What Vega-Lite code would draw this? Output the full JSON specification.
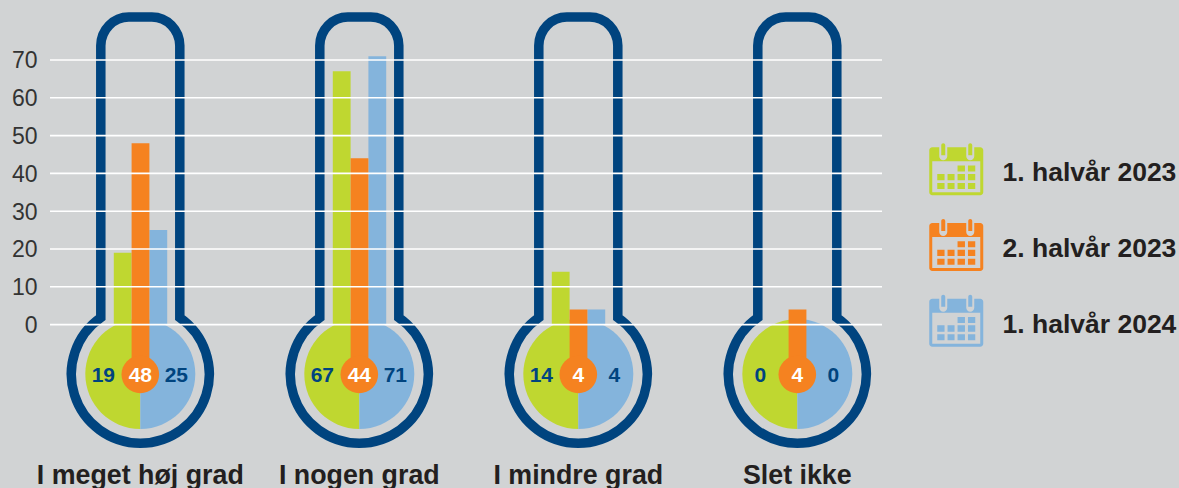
{"$schema":"https://vega.github.io/schema/vega-lite/v6.json","width":832,"height":488,"autosize":{"type":"none"},"padding":{"left":50,"top":0,"right":297,"bottom":0},"background":"#d1d3d4","config":{"view":{"stroke":null},"font":"Liberation Sans"},"datasets":{"ticks":[{"tick":0},{"tick":10},{"tick":20},{"tick":30},{"tick":40},{"tick":50},{"tick":60},{"tick":70}]},"data":{"values":[{"category":"I meget høj grad","period":"1. halvår 2023","value":19},{"category":"I meget høj grad","period":"2. halvår 2023","value":48},{"category":"I meget høj grad","period":"1. halvår 2024","value":25},{"category":"I nogen grad","period":"1. halvår 2023","value":67},{"category":"I nogen grad","period":"2. halvår 2023","value":44},{"category":"I nogen grad","period":"1. halvår 2024","value":71},{"category":"I mindre grad","period":"1. halvår 2023","value":14},{"category":"I mindre grad","period":"2. halvår 2023","value":4},{"category":"I mindre grad","period":"1. halvår 2024","value":4},{"category":"Slet ikke","period":"1. halvår 2023","value":0},{"category":"Slet ikke","period":"2. halvår 2023","value":4},{"category":"Slet ikke","period":"1. halvår 2024","value":0}]},"encoding":{"x":{"field":"category","type":"nominal","sort":["I meget høj grad","I nogen grad","I mindre grad","Slet ikke"],"scale":{"domain":["I meget høj grad","I nogen grad","I mindre grad","Slet ikke"],"range":[-19.2,856.8],"paddingInner":0,"paddingOuter":0},"axis":{"title":null,"orient":"bottom","domain":false,"ticks":false,"grid":false,"labelAngle":0,"labelBaseline":"alphabetic","labelPadding":-5,"labelFont":"Liberation Sans","labelFontSize":26.8,"labelFontWeight":"bold","labelColor":"#231f20","labelLimit":400,"labelOverlap":false,"labelBound":false,"labelFlush":false,"zindex":1}}},"layer":[{"transform":[{"filter":"datum.period !== '2. halvår 2023'"}],"mark":{"type":"bar"},"encoding":{"xOffset":{"field":"period","type":"nominal","scale":{"domain":["1. halvår 2023","2. halvår 2023","1. halvår 2024"],"range":[83,136.4],"paddingInner":0,"paddingOuter":0}},"y":{"field":"value","type":"quantitative","scale":{"domain":[-43.23,85.87],"nice":false,"zero":false},"axis":{"title":null,"values":[0,10,20,30,40,50,60,70],"domain":false,"ticks":false,"grid":false,"labelPadding":13,"labelOffset":1,"labelFont":"Liberation Sans","labelFontSize":23,"labelColor":"#333333","zindex":1}},"y2":{"datum":0},"color":{"field":"period","type":"nominal","scale":{"domain":["1. halvår 2023","2. halvår 2023","1. halvår 2024"],"range":["#bfd730","#f58220","#84b4dc"]},"legend":{"title":null,"orient":"none","legendX":893,"legendY":160,"padding":0,"symbolType":"M-24,-26 H24 A3,3 0 0 1 27,-23 V19 A3,3 0 0 1 24,22 H-24 A3,3 0 0 1 -27,19 V-23 A3,3 0 0 1 -24,-26 Z M-17,-26 V-17 A4,4 0 0 0 -9,-17 V-26 Z M10,-26 V-17 A4,4 0 0 0 18,-17 V-26 Z M-24,-12 V19 H24 V-12 Z M-15,-28 A2,2 0 0 1 -11,-28 V-18 H-15 Z M12,-28 A2,2 0 0 1 16,-28 V-18 H12 Z M1.3,-7.7 H8.7 V-1.7 H1.3 Z M11.7,-7.7 H19 V-1.7 H11.7 Z M-19,0.7 H-11.7 V7 H-19 Z M-8.7,0.7 H-1.7 V7 H-8.7 Z M1.3,0.7 H8.7 V7 H1.3 Z M11.7,0.7 H19 V7 H11.7 Z M-19,9.7 H-11.7 V15.7 H-19 Z M-8.7,9.7 H-1.7 V15.7 H-8.7 Z M1.3,9.7 H8.7 V15.7 H1.3 Z M11.7,9.7 H19 V15.7 H11.7 Z","symbolSize":4,"symbolStrokeWidth":0,"labelOffset":33,"rowPadding":22.7,"labelFont":"Liberation Sans","labelFontSize":26.5,"labelFontWeight":"bold","labelColor":"#231f20","labelLimit":400}}}},{"transform":[{"filter":"datum.period === '2. halvår 2023'"}],"mark":{"type":"point","shape":"M-39.5,-7 A69,69 0 1 0 39.5,-7 L39.5,-279 A28,29 0 0 0 11.5,-307.6 L-11.5,-307.6 A28,29 0 0 0 -39.5,-279 Z","size":4,"filled":false,"fill":null,"stroke":"#00447f","strokeWidth":9.5,"opacity":1},"encoding":{"y":{"datum":0,"type":"quantitative"}}},{"transform":[{"filter":"datum.period === '1. halvår 2023'"}],"mark":{"type":"point","shape":"M0,-5.5 A55,55 0 0 0 0,104.5 Z","size":4,"filled":true,"opacity":1,"strokeWidth":0},"encoding":{"y":{"datum":0,"type":"quantitative"},"color":{"field":"period","type":"nominal"}}},{"transform":[{"filter":"datum.period === '1. halvår 2024'"}],"mark":{"type":"point","shape":"M0,-5.5 A55,55 0 0 1 0,104.5 Z","size":4,"filled":true,"opacity":1,"strokeWidth":0},"encoding":{"y":{"datum":0,"type":"quantitative"},"color":{"field":"period","type":"nominal"}}},{"transform":[{"filter":"datum.period === '2. halvår 2023'"}],"mark":{"type":"bar"},"encoding":{"xOffset":{"field":"period","type":"nominal"},"y":{"field":"value","type":"quantitative"},"y2":{"datum":-13.2},"color":{"field":"period","type":"nominal"}}},{"transform":[{"filter":"datum.period === '2. halvår 2023'"}],"mark":{"type":"point","shape":"circle","size":1414,"filled":true,"opacity":1,"strokeWidth":0},"encoding":{"y":{"datum":-13.2,"type":"quantitative"},"color":{"field":"period","type":"nominal"}}},{"data":{"name":"ticks"},"mark":{"type":"rule","color":"#ffffff","strokeWidth":1.6},"encoding":{"x":{"value":0},"x2":{"value":"width"},"y":{"field":"tick","type":"quantitative"}}},{"transform":[{"filter":"datum.period === '1. halvår 2023'"}],"mark":{"type":"text","dx":-37,"dy":2,"font":"Liberation Sans","fontWeight":"bold","fontSize":21,"fill":"#00447f","baseline":"middle"},"encoding":{"y":{"datum":-13.2,"type":"quantitative"},"text":{"field":"value","type":"quantitative"}}},{"transform":[{"filter":"datum.period === '2. halvår 2023'"}],"mark":{"type":"text","dy":2,"font":"Liberation Sans","fontWeight":"bold","fontSize":21,"fill":"#ffffff","baseline":"middle"},"encoding":{"y":{"datum":-13.2,"type":"quantitative"},"text":{"field":"value","type":"quantitative"}}},{"transform":[{"filter":"datum.period === '1. halvår 2024'"}],"mark":{"type":"text","dx":36,"dy":2,"font":"Liberation Sans","fontWeight":"bold","fontSize":21,"fill":"#00447f","baseline":"middle"},"encoding":{"y":{"datum":-13.2,"type":"quantitative"},"text":{"field":"value","type":"quantitative"}}}]}
